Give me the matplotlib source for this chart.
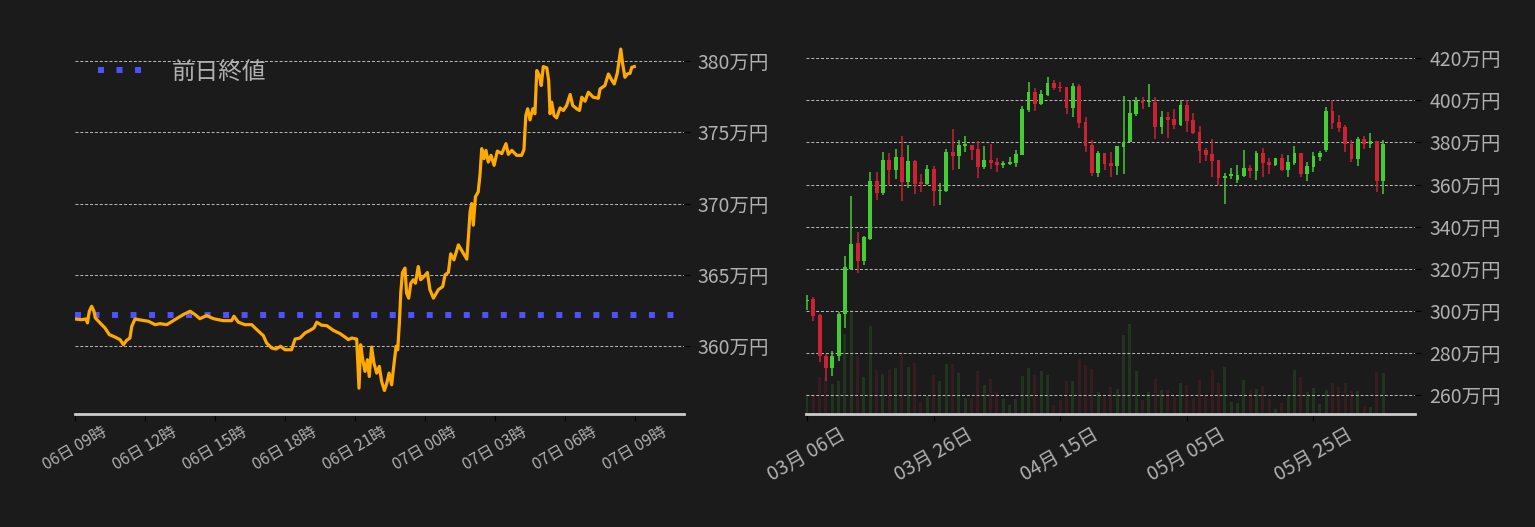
import numpy as np
import pandas as pd
import matplotlib
matplotlib.use("Agg")
import matplotlib.pyplot as plt
import matplotlib.dates as mdates
from matplotlib.ticker import FuncFormatter

plt.rcParams['font.family'] = ['Noto Sans CJK JP', 'DejaVu Sans']

BG = "#1b1b1b"
TXT = "#b0b0b0"
GRID = "#bdbdbd"
UP = "#44cc33"
DOWN = "#cc2233"

# ---- intraday (hours after 06日 09時, price in 万円)
hours = [0.00, 0.30, 0.49, 0.55, 0.63, 0.73, 0.83, 0.89, 1.09, 1.30, 1.49, 1.73, 1.95, 2.09, 2.23,
         2.37, 2.45, 2.59, 2.88, 3.16, 3.45, 3.66, 3.95, 4.30, 4.66, 4.95, 5.16, 5.37, 5.66, 5.95,
         6.37, 6.73, 6.83, 7.02, 7.30, 7.59, 7.81, 8.09, 8.23, 8.45, 8.63, 8.83, 9.02, 9.30, 9.45,
         9.66, 9.88, 10.09, 10.26, 10.38, 10.59, 10.81, 11.09, 11.38, 11.59, 11.73, 11.88, 12.09,
         12.19, 12.26, 12.35, 12.45, 12.55, 12.63, 12.73, 12.83, 12.95, 13.06, 13.16, 13.28, 13.38,
         13.48, 13.59, 13.66, 13.78, 13.85, 13.92, 13.98, 14.05, 14.16, 14.23, 14.32, 14.41, 14.52,
         14.61, 14.73, 14.83, 14.98, 15.12, 15.23, 15.38, 15.59, 15.78, 15.88, 16.02, 16.12, 16.26,
         16.45, 16.66, 16.81, 16.89, 16.95, 17.02, 17.09, 17.18, 17.30, 17.38, 17.45, 17.55, 17.63,
         17.73, 17.85, 17.98, 18.12, 18.31, 18.49, 18.59, 18.74, 18.95, 19.16, 19.26, 19.34, 19.42,
         19.52, 19.64, 19.73, 19.81, 19.92, 20.00, 20.09, 20.24, 20.32, 20.38, 20.45, 20.55, 20.66,
         20.81, 20.95, 21.09, 21.24, 21.35, 21.52, 21.64, 21.74, 21.88, 22.02, 22.23, 22.45, 22.52,
         22.73, 22.88, 23.02, 23.13, 23.26, 23.41, 23.49, 23.59, 23.69, 23.81, 23.88, 23.99]
price = [361.90, 361.85, 361.90, 361.62, 362.44, 362.79, 362.44, 361.97, 361.62, 361.27, 360.80,
         360.63, 360.45, 360.09, 360.40, 360.56, 361.38, 361.90, 361.81, 361.74, 361.50, 361.57,
         361.50, 361.85, 362.21, 362.44, 362.21, 361.92, 362.14, 361.92, 361.78, 361.78, 362.09,
         361.67, 361.50, 361.50, 361.15, 360.73, 360.21, 359.86, 359.79, 359.98, 359.74, 359.74,
         360.49, 360.56, 360.92, 361.10, 361.27, 361.67, 361.46, 361.43, 361.10, 360.87, 360.63,
         360.45, 360.56, 360.49, 357.04, 360.09, 359.04, 358.22, 359.04, 357.86, 359.93, 358.80,
         358.10, 358.57, 357.51, 356.88, 357.39, 358.10, 357.28, 358.33, 359.98, 359.74, 361.62,
         363.73, 365.14, 365.47, 363.71, 363.36, 364.41, 364.65, 364.41, 365.58, 364.65, 364.88,
         365.16, 363.95, 363.36, 363.95, 364.18, 365.00, 365.16, 366.47, 366.05, 367.10, 366.52,
         366.10, 367.92, 369.42, 370.00, 368.48, 370.47, 370.82, 372.10, 373.85, 373.15, 373.73,
         372.91, 373.38, 372.68, 373.68, 373.50, 374.20, 373.45, 373.73, 373.38, 373.38, 373.78,
         376.18, 376.65, 375.87, 376.65, 376.30, 379.33, 378.98, 378.28, 379.61, 379.52, 378.63,
         376.30, 377.11, 376.18, 376.01, 376.71, 376.53, 376.88, 377.65, 376.88, 376.65, 376.53,
         377.46, 377.18, 377.81, 377.46, 377.39, 378.04, 378.28, 379.09, 378.67, 378.39, 379.14,
         380.84, 379.79, 378.86, 379.09, 379.14, 379.56, 379.61]
prev_close = 362.18

# ---- daily candles (万円)
opens = [304.5, 305.4, 297.8, 278.7, 272.7, 278.4, 298.4, 320.0, 332.0, 323.5, 334.2, 361.6, 355.9,
         371.6, 366.8, 373.0, 361.1, 371.1, 361.1, 360.2, 367.3, 357.0, 356.8, 375.4, 373.5, 378.5,
         378.7, 376.8, 368.3, 371.6, 370.6, 369.2, 369.7, 370.2, 374.0, 395.4, 404.0, 398.3, 402.5,
         408.3, 406.5, 406.3, 396.3, 406.8, 389.7, 378.7, 365.4, 374.9, 370.2, 368.7, 377.8, 380.2,
         393.5, 399.7, 399.2, 399.2, 387.3, 392.1, 391.1, 388.3, 397.8, 390.6, 384.9, 376.4, 374.4,
         371.6, 363.3, 364.2, 362.3, 363.9, 367.7, 366.3, 374.9, 370.6, 369.1, 372.5, 366.8, 370.1,
         374.9, 364.9, 368.3, 373.0, 376.4, 394.9, 389.7, 387.3, 379.2, 372.1, 381.6, 379.2, 380.6,
         361.6]
highs = [307.3, 306.4, 298.6, 279.5, 281.1, 299.5, 325.9, 354.5, 337.3, 335.5, 365.9, 365.9, 375.4,
         374.9, 376.8, 383.0, 378.7, 371.6, 364.9, 369.2, 368.7, 360.6, 376.8, 386.4, 381.1, 383.0,
         379.0, 380.6, 378.3, 379.2, 372.5, 371.1, 373.0, 376.4, 397.3, 408.7, 405.9, 405.0, 411.1,
         409.7, 408.7, 406.5, 408.3, 407.8, 392.1, 381.1, 375.9, 375.0, 375.4, 378.5, 402.0, 400.2,
         401.6, 401.6, 407.8, 401.6, 394.9, 394.4, 395.9, 400.2, 400.0, 394.0, 387.8, 377.3, 381.6,
         371.8, 365.4, 367.8, 369.2, 376.4, 369.2, 375.9, 377.3, 372.5, 372.8, 374.4, 373.9, 378.3,
         375.1, 370.6, 375.4, 375.9, 396.8, 400.2, 393.0, 388.3, 381.1, 382.7, 383.0, 384.4, 380.8,
         381.3]
lows = [300.6, 295.1, 275.6, 266.5, 268.9, 276.0, 291.8, 319.5, 317.9, 321.6, 333.8, 352.5, 354.9,
        359.7, 362.5, 352.1, 358.3, 355.4, 356.4, 359.7, 349.7, 350.2, 356.5, 366.8, 367.3, 375.4,
        371.6, 363.0, 367.3, 367.3, 365.9, 367.8, 369.2, 368.3, 373.8, 394.4, 394.9, 398.0, 402.0,
        404.9, 404.0, 393.5, 392.1, 386.8, 375.4, 364.0, 363.5, 366.8, 363.5, 364.5, 364.9, 380.0,
        392.5, 395.9, 396.8, 381.6, 384.0, 382.0, 386.4, 388.0, 384.9, 384.2, 370.2, 371.1, 363.5,
        359.7, 350.6, 362.5, 360.6, 363.5, 362.9, 362.0, 363.8, 364.9, 368.6, 366.6, 363.8, 369.1,
        363.5, 361.6, 365.8, 371.2, 375.4, 386.4, 384.9, 375.4, 370.6, 368.7, 377.0, 377.3, 356.4,
        355.4]
closes = [305.2, 297.5, 278.4, 272.7, 278.7, 298.7, 320.8, 331.6, 323.5, 334.9, 361.6, 355.9, 371.6,
          366.8, 373.0, 361.1, 371.1, 360.2, 360.2, 367.3, 356.8, 357.5, 375.4, 373.5, 378.7, 378.6,
          376.4, 368.3, 371.6, 370.2, 369.2, 370.2, 370.6, 374.4, 395.9, 404.0, 398.3, 403.0, 408.3,
          405.9, 406.2, 396.3, 406.8, 389.2, 378.3, 365.4, 374.9, 369.7, 368.7, 378.3, 380.2, 394.0,
          399.7, 398.7, 399.4, 387.3, 392.1, 390.6, 388.3, 397.8, 390.2, 384.4, 375.9, 374.0, 371.1,
          363.0, 363.8, 364.6, 364.4, 367.7, 366.3, 374.9, 370.1, 369.1, 372.5, 366.8, 370.6, 374.9,
          364.9, 368.7, 373.5, 374.9, 394.9, 389.2, 386.8, 379.2, 372.1, 381.6, 379.2, 380.6, 361.6,
          379.2]
volume = [60, 60, 110, 112, 90, 98, 239, 312, 176, 110, 263, 131, 119, 131, 137, 187, 140, 152, 36,
          54, 116, 98, 149, 149, 122, 47, 47, 128, 86, 104, 65, 44, 26, 44, 113, 137, 116, 128, 116,
          26, 41, 98, 98, 164, 146, 134, 65, 50, 80, 74, 236, 269, 128, 41, 65, 104, 71, 71, 56, 92,
          86, 47, 101, 56, 131, 92, 140, 35, 32, 101, 71, 74, 83, 44, 14, 32, 53, 131, 110, 65, 77,
          29, 71, 92, 80, 92, 68, 68, 23, 20, 125, 122]

start = pd.Timestamp("2023-06-06 09:00")
times = start + pd.to_timedelta(hours, unit="h")
days = pd.date_range("2023-03-06", periods=len(opens), freq="D")

fig = plt.figure(figsize=(15.35, 5.27), dpi=100, facecolor=BG)

def style(ax):
    ax.set_facecolor(BG)
    for s in ["top", "left", "right"]:
        ax.spines[s].set_visible(False)
    ax.spines["bottom"].set_color("#cccccc")
    ax.spines["bottom"].set_linewidth(2)
    ax.yaxis.tick_right()
    ax.tick_params(axis="y", colors="black", labelcolor=TXT, labelsize=14, length=4, pad=6)
    ax.tick_params(axis="x", colors="black", labelcolor=TXT, length=5, pad=2)
    ax.grid(axis="y", color=GRID, linestyle=(0, (3, 2)), linewidth=0.7)
    ax.set_axisbelow(True)

man = FuncFormatter(lambda v, p: f"{v:.0f}万円")

# ---- left: intraday
ax1 = fig.add_axes([0.0486, 0.2144, 0.397, 0.702])
style(ax1)
ax1.plot(times, price, color="#ffaa00", lw=2.3, zorder=3, solid_joinstyle="round")
ax1.axhline(prev_close, color="#5050ff", lw=4.3, linestyle=(0, (1, 2.1)),
            dash_capstyle="butt", label="前日終値", zorder=2)
ax1.set_ylim(355.23, 381.19)
ax1.set_yticks([360, 365, 370, 375, 380])
ax1.yaxis.set_major_formatter(man)
ax1.set_xlim(start, start + pd.Timedelta(hours=26.12))
ax1.xaxis.set_major_locator(mdates.HourLocator(byhour=[0, 3, 6, 9, 12, 15, 18, 21]))
ax1.xaxis.set_major_formatter(mdates.DateFormatter("%d日 %H時"))
for lab in ax1.get_xticklabels():
    lab.set_rotation(30)
    lab.set_ha("center")
    lab.set_fontsize(11.5)
leg = ax1.legend(loc="upper left", frameon=False, fontsize=17, handlelength=1.9,
                 handletextpad=1.2, borderaxespad=0.3, bbox_to_anchor=(0.012, 1.0))
for t in leg.get_texts():
    t.set_color(TXT)

# ---- right: daily candles + volume
axv = fig.add_axes([0.5251, 0.2144, 0.397, 0.702])
axv.set_facecolor(BG)
axv.axis("off")
up = np.array(closes) >= np.array(opens)
vcol = [UP if u else DOWN for u in up]
axv.bar(days, volume, width=0.5, color=vcol, alpha=0.15)
axv.set_ylim(0, 1110)

ax2 = fig.add_axes([0.5251, 0.2144, 0.397, 0.702])
style(ax2)
ax2.set_facecolor("none")
ccol = [UP if u else DOWN for u in up]
ax2.vlines(days, lows, highs, color=ccol, lw=1.1, zorder=3)
body = np.array(closes) - np.array(opens)
body = np.where(np.abs(body) < 0.6, np.where(body >= 0, 0.6, -0.6), body)
ax2.bar(days, body, bottom=opens, width=0.62, color=ccol, zorder=4)
ax2.set_ylim(250.97, 426.74)
ax2.set_yticks(range(260, 421, 20))
ax2.yaxis.set_major_formatter(man)
ax2.set_xlim(days[0] - pd.Timedelta(days=0.14), days[0] + pd.Timedelta(days=96.1))
axv.set_xlim(ax2.get_xlim())
ax2.set_xticks(pd.date_range("2023-03-06", periods=5, freq="20D"))
ax2.xaxis.set_major_formatter(mdates.DateFormatter("%m月 %d日"))
for lab in ax2.get_xticklabels():
    lab.set_rotation(30)
    lab.set_ha("center")
    lab.set_fontsize(14)

fig.savefig("out.png", dpi=100, facecolor=BG)
